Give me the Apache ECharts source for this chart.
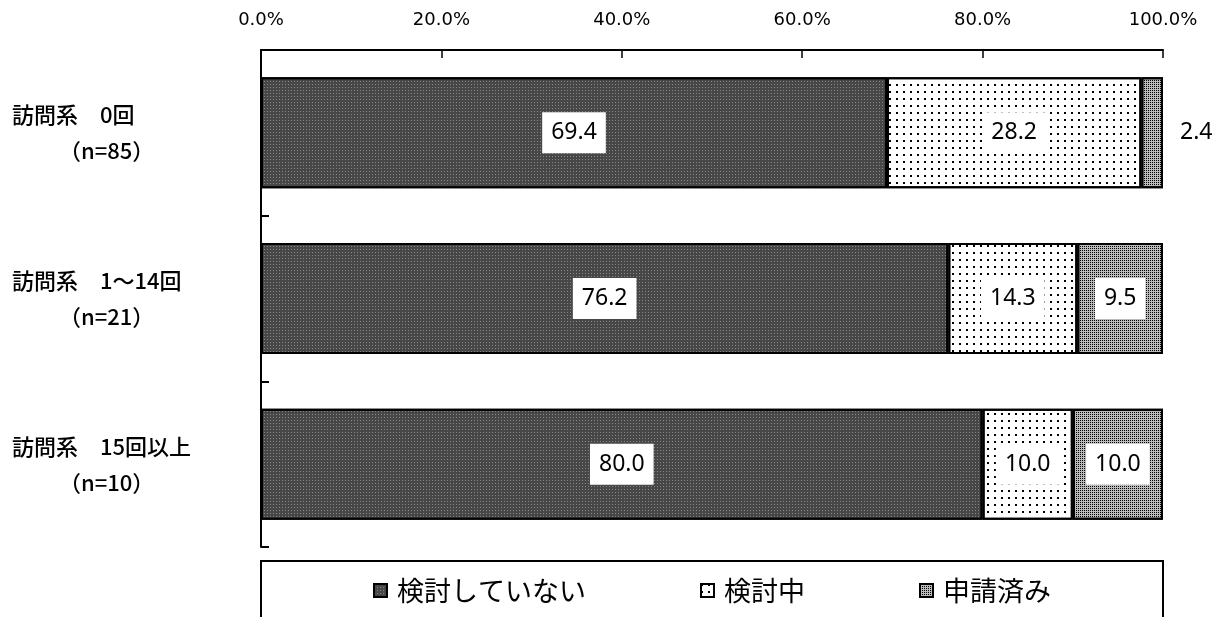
<!DOCTYPE html>
<html><head><meta charset="utf-8">
<script src="https://cdn.jsdelivr.net/npm/echarts@6/dist/echarts.min.js"></script>
<style>html,body{margin:0;padding:0;background:#fff}#c{width:1221px;height:617px}</style>
</head><body><div id="c"></div>
<script>
const categories = ['訪問系　0回|（n=85）', '訪問系　1～14回|（n=21）', '訪問系　15回以上|（n=10）'];
const seriesNames = ['検討していない', '検討中', '申請済み'];
const notConsidering = [69.4, 76.2, 80.0];
const considering = [28.2, 14.3, 10.0];
const applied = [2.4, 9.5, 10.0];
const xTicks = [0, 20, 40, 60, 80, 100];

const cjk = '"Noto Sans CJK JP", sans-serif';
const num = '"Noto Sans", sans-serif';
const chart = echarts.init(document.getElementById('c'));
const labelStyle = {
  show: true, position: 'inside', color: '#000', fontSize: 23, fontFamily: num,
  backgroundColor: '#fff', padding: [9, 9, 9, 9],
  formatter: p => p.value.toFixed(1)
};
function mk(name, values, color, decal, labelOverrides) {
  return {
    name, type: 'bar', stack: 'a', barWidth: '67%',
    itemStyle: { color, borderColor: '#000', borderWidth: 2, decal },
    label: labelStyle,
    data: values.map((v, i) => {
      const d = { value: v };
      if (labelOverrides && labelOverrides[i]) d.label = labelOverrides[i];
      return d;
    })
  };
}
chart.setOption({
  animation: false,
  textStyle: { fontFamily: cjk },
  grid: { left: 261, right: 58, top: 50, bottom: 70 },
  xAxis: {
    type: 'value', position: 'top', min: xTicks[0], max: xTicks[xTicks.length - 1], interval: 20,
    axisLine: { show: true, lineStyle: { color: '#000', width: 2 } },
    axisTick: { show: true, inside: true, length: 8, lineStyle: { color: '#000', width: 1.5 } },
    splitLine: { show: false },
    axisLabel: { color: '#000', fontSize: 18, fontFamily: '"DejaVu Sans", sans-serif', margin: 21,
      formatter: v => v.toFixed(1) + '%' }
  },
  yAxis: {
    type: 'category', inverse: true, data: categories,
    axisLine: { show: true, lineStyle: { color: '#000', width: 2 } },
    axisTick: { show: true, inside: true, length: 8, lineStyle: { color: '#000', width: 2 } },
    axisLabel: {
      align: 'left', margin: 249, color: '#000',
      formatter: v => { const [a, b] = v.split('|'); return '{a|' + a + '}\n{b|' + b + '}'; },
      rich: {
        a: { fontSize: 22, fontWeight: 500, color: '#000', lineHeight: 36, fontFamily: cjk },
        b: { fontSize: 22, fontWeight: 500, color: '#000', lineHeight: 36, padding: [0, 0, 0, 47], fontFamily: cjk }
      }
    }
  },
  legend: {
    left: 368, top: 572, itemWidth: 13, itemHeight: 13, itemGap: 114, icon: 'rect',
    textStyle: { fontSize: 27, color: '#000', fontFamily: cjk, padding: [0, 0, 0, 5] },
    data: seriesNames
  },
  graphic: [{
    type: 'rect', shape: { x: 261, y: 561, width: 902, height: 70 },
    style: { fill: 'none', stroke: '#000', lineWidth: 2 }, silent: true
  }],
  series: [
    mk(seriesNames[0], notConsidering, '#474747',
      { symbol: 'rect', symbolSize: 1, color: 'rgba(255,255,255,0.35)', dashArrayX: [1, 2], dashArrayY: [1, 2] }),
    mk(seriesNames[1], considering, '#fff',
      { symbol: 'rect', symbolSize: 1, color: '#000', dashArrayX: [2, 5], dashArrayY: [2, 5] }),
    mk(seriesNames[2], applied, '#bbbbbb',
      { symbol: 'rect', symbolSize: 1, color: '#000', dashArrayX: [1, 1], dashArrayY: [1, 1] },
      { 0: { position: 'right', distance: 17, padding: 0, backgroundColor: 'transparent' } })
  ]
});
</script></body></html>
